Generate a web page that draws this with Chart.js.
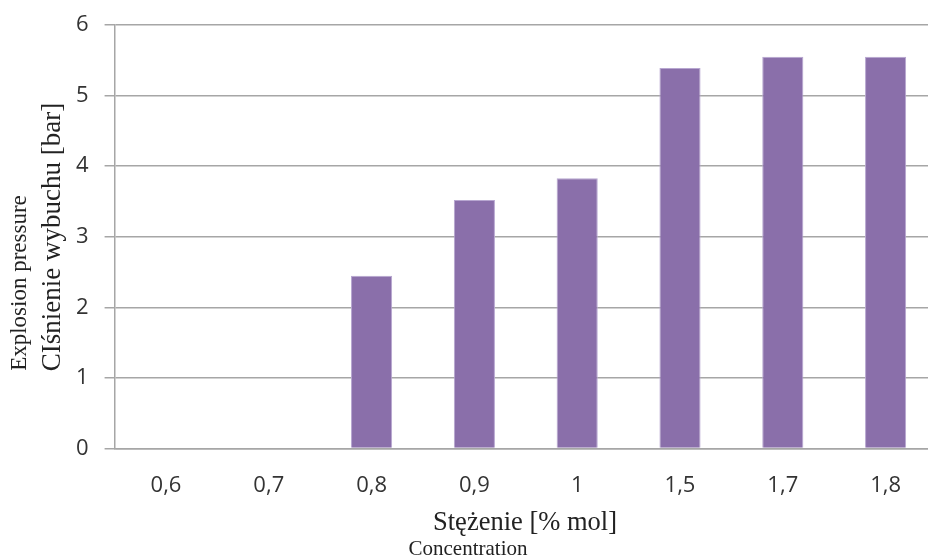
<!DOCTYPE html>
<html>
<head>
<meta charset="utf-8">
<script src="https://cdn.jsdelivr.net/npm/chart.js@4/dist/chart.umd.min.js"></script>
<style>
  html, body { margin: 0; padding: 0; background: #fff; overflow: hidden; }
  #wrap { width: 937px; height: 559px; }
</style>
</head>
<body>
<div id="wrap"><canvas id="chart" width="937" height="559"></canvas></div>
<script>
const categories = ['0,6', '0,7', '0,8', '0,9', '1', '1,5', '1,7', '1,8'];
const pressure = [0, 0, 2.45, 3.52, 3.83, 5.39, 5.55, 5.55];
const yTicks = [0, 1, 2, 3, 4, 5, 6];

// axis titles, two lines each in different sizes
const titlePlugin = {
  id: 'titles',
  afterDraw(chart) {
    const ctx = chart.ctx;
    ctx.save();
    ctx.fillStyle = '#222';
    ctx.textAlign = 'center';
    ctx.textBaseline = 'middle';
    ctx.font = '26.5px "Liberation Serif", serif';
    ctx.fillText('Stężenie [% mol]', 525, 523);
    ctx.font = '21px "Liberation Serif", serif';
    ctx.fillText('Concentration', 468, 549);

    ctx.translate(53, 237);
    ctx.rotate(-Math.PI / 2);
    ctx.font = '27px "Liberation Serif", serif';
    ctx.fillText('CIśnienie wybuchu [bar]', 0, 0);
    ctx.font = '23px "Liberation Serif", serif';
    ctx.fillText('Explosion pressure', -46, -33);
    ctx.restore();
  }
};

new Chart(document.getElementById('chart'), {
  type: 'bar',
  data: {
    labels: categories,
    datasets: [{
      data: pressure,
      backgroundColor: '#8A6FAA',
      borderColor: '#B7A6D0',
      borderWidth: 1,
      barPercentage: 0.4,
      categoryPercentage: 1
    }]
  },
  options: {
    responsive: false,
    animation: false,
    layout: { padding: { left: 60, top: 25, right: 0, bottom: 44 } },
    plugins: { legend: { display: false }, tooltip: { enabled: false } },
    scales: {
      x: {
        grid: { display: false },
        border: { display: true, color: '#a6a6a6', width: 1.5 },
        ticks: { color: '#333', font: { family: '"Open Sans", sans-serif', size: 22 }, padding: 16 }
      },
      y: {
        min: 0,
        max: 6,
        afterBuildTicks(scale) { scale.ticks = yTicks.map(v => ({ value: v })); },
        afterFit(scale) { scale.paddingTop = 0; scale.paddingBottom = 0; },
        grid: { color: '#a6a6a6', lineWidth: 1.5, tickLength: 10 },
        border: { display: true, color: '#a6a6a6', width: 1.5 },
        ticks: { color: '#333', font: { family: '"Open Sans", sans-serif', size: 22 }, padding: 16 }
      }
    }
  },
  plugins: [titlePlugin]
});
</script>
</body>
</html>
